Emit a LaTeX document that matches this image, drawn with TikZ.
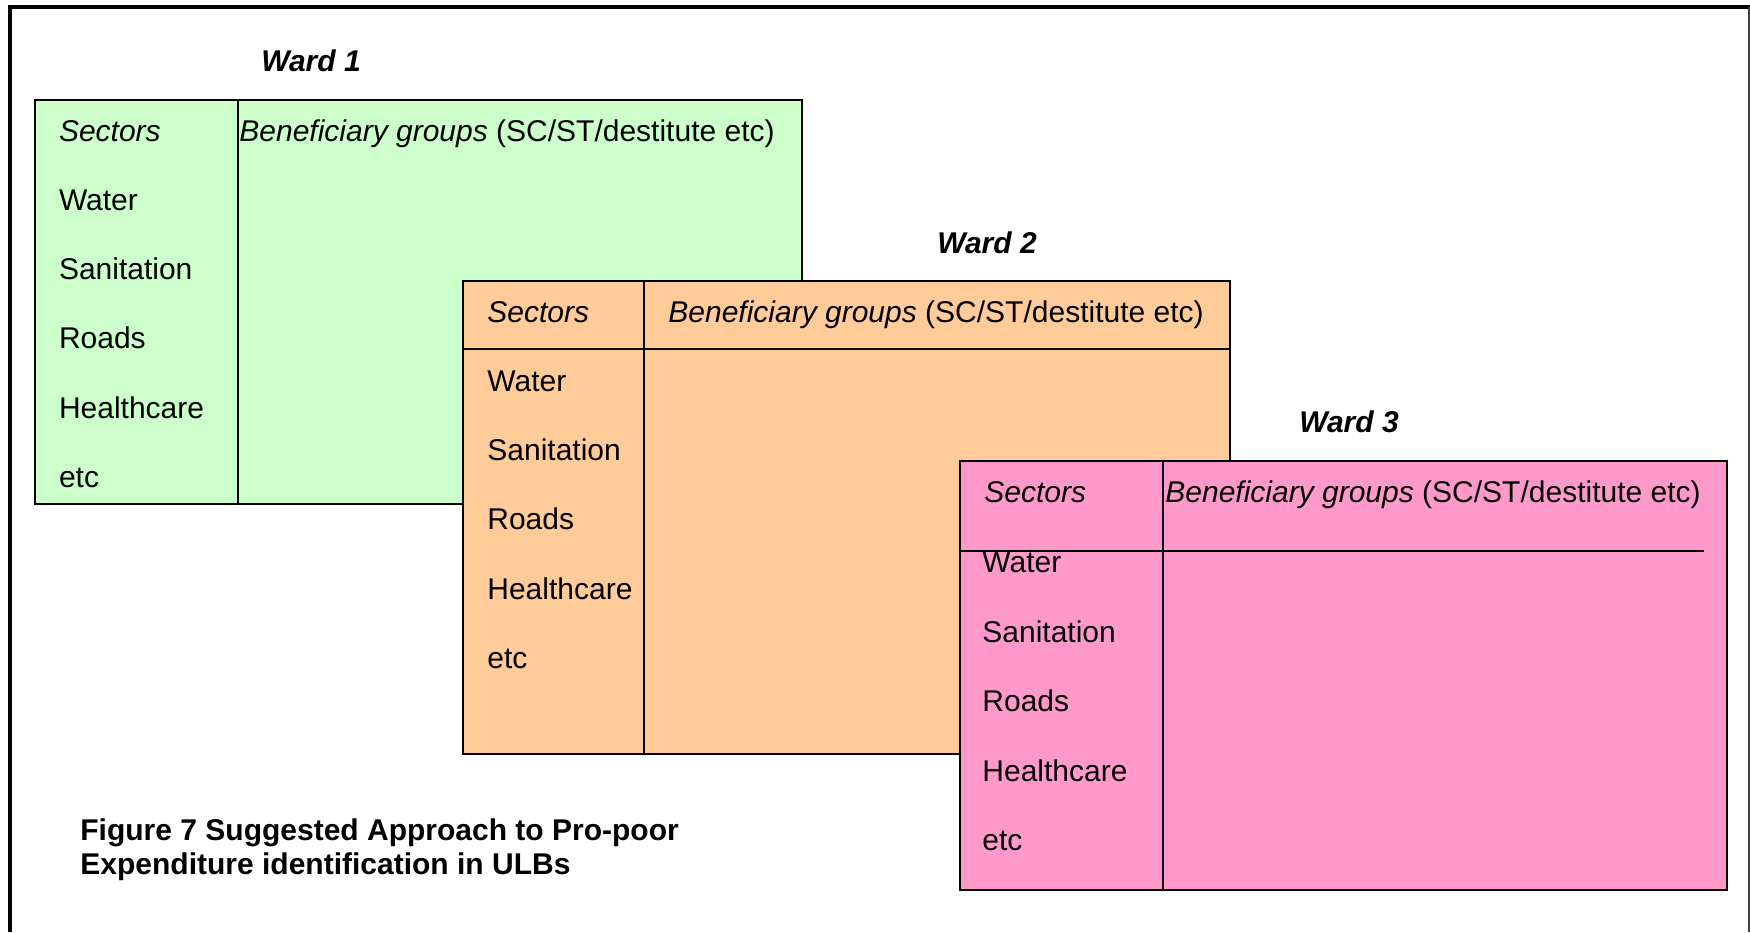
\documentclass[tikz,border=0pt]{standalone}
\usepackage{fontspec}
\setmainfont{Liberation Sans}
\definecolor{wardgreen}{HTML}{CCFFCC}
\definecolor{wardorange}{HTML}{FFCC99}
\definecolor{wardpink}{HTML}{FF99CC}
\begin{document}
\begin{tikzpicture}[x=0.5pt,y=-0.5pt,
  panel/.style={draw=black,line width=1pt},
  rule/.style={draw=black,line width=1pt},
  cell/.style={anchor=base west,inner sep=0pt,font=\fontsize{15}{18}\selectfont},
  wardlabel/.style={anchor=base,inner sep=0pt,font=\fontsize{15}{18}\selectfont\bfseries\itshape},
  captionline/.style={anchor=base west,inner sep=0pt,font=\fontsize{15}{18}\selectfont\bfseries}]
\useasboundingbox (0,0) rectangle (1750,932);
\fill[white] (0,0) rectangle (1750,932);

% page frame
\draw[line width=2pt,black] (10,932) -- (10,7) -- (1750,7);
\draw[line width=0.6pt,black!75] (1749,7) -- (1749,932);

% ---- Ward 1 ----
\node[wardlabel] (w1) at (311,71) {Ward 1};
\filldraw[panel,fill=wardgreen] (34.5,99.5) rectangle (802,504);
\draw[rule] (238,99.5) -- (238,504);
\node[cell] (g0) at (58.6,141) {\itshape Sectors};
\node[cell] (gb) at (239,141) {\itshape Beneficiary groups\upshape\ (SC/ST/destitute etc)};
\foreach \t [count=\i] in {Water,Sanitation,Roads,Healthcare,etc}
  \node[cell] (g\i) at (58.6,{141+\i*69.3}) {\t};

% ---- Ward 2 ----
\node[wardlabel] (w2) at (987,253) {Ward 2};
\filldraw[panel,fill=wardorange] (463,281) rectangle (1230,754);
\draw[rule] (644,281) -- (644,754);
\draw[rule] (463,348.6) -- (1230,348.6);
\node[cell] (o0) at (487,322) {\itshape Sectors};
\node[cell] (ob) at (668,322) {\itshape Beneficiary groups\upshape\ (SC/ST/destitute etc)};
\foreach \t [count=\i] in {Water,Sanitation,Roads,Healthcare,etc}
  \node[cell] (o\i) at (487,{322+\i*69.3}) {\t};

% ---- Ward 3 ----
\node[wardlabel] (w3) at (1349,432) {Ward 3};
\filldraw[panel,fill=wardpink] (959.5,461) rectangle (1727,890);
\draw[rule] (1163,461) -- (1163,890);
\draw[rule] (959.5,551) -- (1704,551);
\node[cell] (p0) at (984,502) {\itshape Sectors};
\node[cell] (pb) at (1165,502) {\itshape Beneficiary groups\upshape\ (SC/ST/destitute etc)};
\foreach \t [count=\i] in {Water,Sanitation,Roads,Healthcare,etc}
  \node[cell] (p\i) at (982,{503+\i*69.5}) {\t};

% caption
\node[captionline] (cap1) at (80,840) {Figure 7 Suggested Approach to Pro-poor};
\node[captionline] (cap2) at (80,874) {Expenditure identification in ULBs};
\end{tikzpicture}
\end{document}
